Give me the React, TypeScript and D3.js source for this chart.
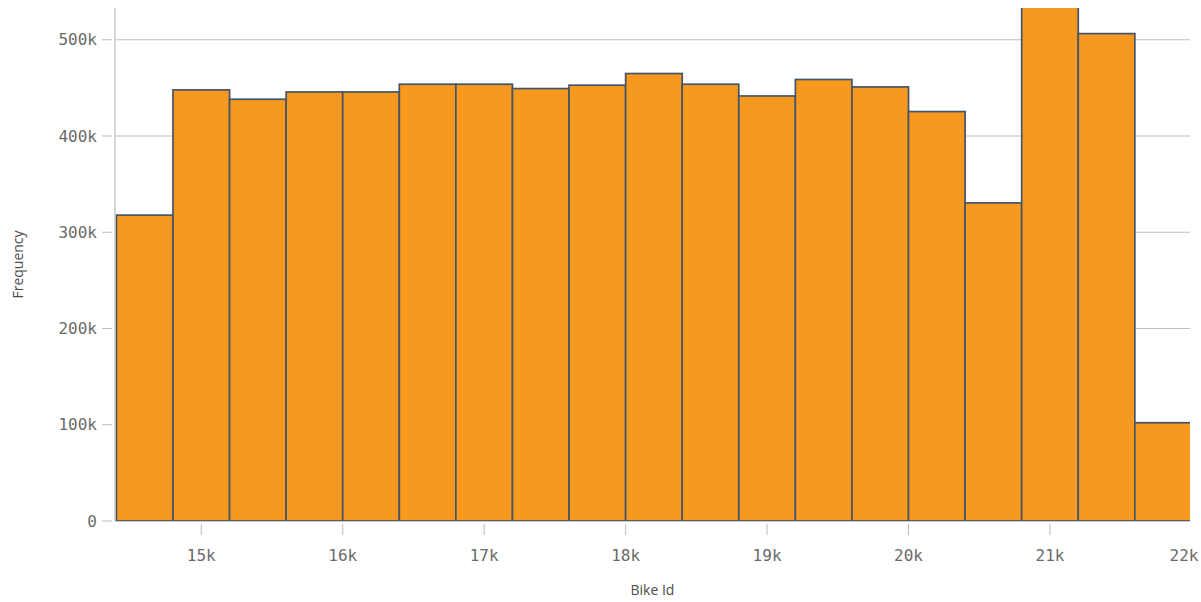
import React from "react";
import * as d3 from "d3";

const binStarts = [14400, 14800, 15200, 15600, 16000, 16400, 16800, 17200, 17600, 18000, 18400, 18800, 19200, 19600, 20000, 20400, 20800, 21200, 21600];
const binWidth = 400;
const frequencies = [317800, 447900, 438200, 445800, 445800, 453800, 453800, 449300, 452800, 464900, 453800, 441600, 458700, 451000, 425400, 330500, 545000, 506400, 102100];
const xTicks = [15000, 16000, 17000, 18000, 19000, 20000, 21000, 22000];
const yTicks = [0, 100000, 200000, 300000, 400000, 500000];

const W = 1201;
const H = 602;
const left = 115;
const right = 1190;
const top = 8;
const bottom = 521;

export default function App() {
  const x = d3.scaleLinear().domain([14390, 21990]).range([left, right]);
  const y = d3.scaleLinear().domain([0, 533000]).range([bottom, top]);
  const fmtY = (v: number) => (v === 0 ? "0" : `${v / 1000}k`);
  const fmtX = (v: number) => `${v / 1000}k`;
  const monoFont = "'DejaVu Sans Mono', monospace";
  const sansFont = "'Open Sans', 'Noto Sans', sans-serif";

  return (
    <svg width={W} height={H} style={{ position: "absolute", left: 0, top: 0, background: "#fff" }}>
      <defs>
        <clipPath id="plot">
          <rect x={left} y={top} width={right - left} height={bottom - top + 2} />
        </clipPath>
      </defs>
      {yTicks.map((t) => (
        <line key={"g" + t} x1={left} x2={right} y1={y(t)} y2={y(t)} stroke="#bfbfbf" strokeWidth={1} />
      ))}
      <g clipPath="url(#plot)">
        {binStarts.map((s, i) => (
          <rect
            key={s}
            x={x(s)}
            y={y(frequencies[i])}
            width={x(s + binWidth) - x(s)}
            height={bottom - y(frequencies[i])}
            fill="#f8991f"
            stroke="#44546a"
            strokeWidth={1.7}
          />
        ))}
      </g>
      <line x1={left} x2={left} y1={top} y2={bottom} stroke="#bdbdbd" strokeWidth={1.2} />
      <line x1={left} x2={right} y1={bottom + 0.5} y2={bottom + 0.5} stroke="#c8ccd4" strokeWidth={1} />
      {yTicks.map((t) => (
        <g key={"y" + t}>
          <line x1={102} x2={112} y1={y(t)} y2={y(t)} stroke="#bdbdbd" strokeWidth={1} />
          <text x={97} y={y(t)} dy="0.35em" textAnchor="end" fontFamily={monoFont} fontSize={16} fill="#6a6a6a">
            {fmtY(t)}
          </text>
        </g>
      ))}
      {xTicks.map((t) => {
        const px = x(t);
        const inside = px <= right;
        return (
          <g key={"x" + t}>
            {inside && <line x1={px} x2={px} y1={524} y2={535} stroke="#bdbdbd" strokeWidth={1} />}
            <text x={Math.min(px, 1184)} y={555} dy="0.35em" textAnchor="middle" fontFamily={monoFont} fontSize={16} fill="#6a6a6a">
              {fmtX(t)}
            </text>
          </g>
        );
      })}
      <text x={(left + right) / 2} y={590} dy="0.35em" textAnchor="middle" fontFamily={sansFont} fontSize={14} fill="#4d4d4d">
        Bike Id
      </text>
      <text
        transform={`translate(18, ${(top + bottom) / 2}) rotate(-90)`}
        dy="0.35em"
        textAnchor="middle"
        fontFamily={sansFont}
        fontSize={14}
        fill="#4d4d4d"
      >
        Frequency
      </text>
    </svg>
  );
}
